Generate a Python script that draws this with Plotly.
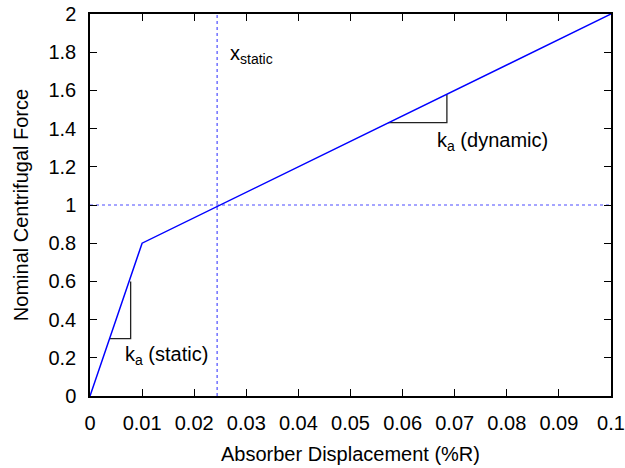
import plotly.graph_objects as go

# Data
disp = [0.0, 0.01, 0.1]
force = [0.0, 0.8, 2.0]
x_static = 0.0244
y_nominal = 1.0

# slope indicator triangles (open: horizontal + vertical legs)
static_tri_x = [0.00375, 0.0078, 0.0078]
static_tri_y = [0.3, 0.3, 0.6]
dyn_tri_x = [0.0572, 0.0685, 0.0685]
dyn_tri_y = [1.431, 1.431, 1.58]

x_ticks = [round(i * 0.01, 2) for i in range(11)]
y_ticks = [round(i * 0.2, 1) for i in range(11)]

FONT = "Liberation Sans, Arial, sans-serif"
FS = 20

fig = go.Figure()

fig.add_trace(go.Scatter(x=[x_static, x_static], y=[0, 2], mode="lines",
                         line=dict(color="#4d4dff", width=1.2, dash="dot"),
                         showlegend=False, hoverinfo="skip"))
fig.add_trace(go.Scatter(x=[0, 0.1], y=[y_nominal, y_nominal], mode="lines",
                         line=dict(color="#4d4dff", width=1.2, dash="dot"),
                         showlegend=False, hoverinfo="skip"))
fig.add_trace(go.Scatter(x=static_tri_x, y=static_tri_y, mode="lines",
                         line=dict(color="#222222", width=1.3),
                         showlegend=False, hoverinfo="skip"))
fig.add_trace(go.Scatter(x=dyn_tri_x, y=dyn_tri_y, mode="lines",
                         line=dict(color="#222222", width=1.3),
                         showlegend=False, hoverinfo="skip"))
fig.add_trace(go.Scatter(x=disp, y=force, mode="lines",
                         line=dict(color="#0000ff", width=1.5),
                         showlegend=False))

fig.add_annotation(x=0.0265, y=1.79, text="x<sub>static</sub>", showarrow=False,
                   xanchor="left", yanchor="middle", font=dict(family=FONT, size=FS, color="black"))
fig.add_annotation(x=0.0064, y=0.21, text="k<sub>a</sub> (static)", showarrow=False,
                   xanchor="left", yanchor="middle", font=dict(family=FONT, size=FS, color="black"))
fig.add_annotation(x=0.0663, y=1.33, text="k<sub>a</sub> (dynamic)", showarrow=False,
                   xanchor="left", yanchor="middle", font=dict(family=FONT, size=FS, color="black"))

axis_common = dict(showline=True, linecolor="black", linewidth=1.5, mirror="ticks",
                   ticks="inside", ticklen=7, tickwidth=1.2, tickcolor="black",
                   showgrid=False, zeroline=False, automargin=False,
                   tickfont=dict(family=FONT, size=FS, color="black"))

fig.update_xaxes(range=[0, 0.1], tickvals=x_ticks, ticktext=[("%g" % v) for v in x_ticks],
                 ticklabelstandoff=8,
                 title=dict(text="Absorber Displacement (%R)", font=dict(family=FONT, size=FS, color="black"),
                            standoff=14),
                 **axis_common)
fig.update_yaxes(range=[0, 2], tickvals=y_ticks, ticktext=[("%g" % v) for v in y_ticks],
                 ticklabelstandoff=8,
                 title=dict(text="Nominal Centrifugal Force", font=dict(family=FONT, size=FS, color="black"),
                            standoff=14),
                 **axis_common)

fig.update_layout(width=625, height=468, margin=dict(l=90, r=14, t=14, b=72),
                  plot_bgcolor="white", paper_bgcolor="white",
                  font=dict(family=FONT, size=FS, color="black"))

fig.write_html("out.html")
